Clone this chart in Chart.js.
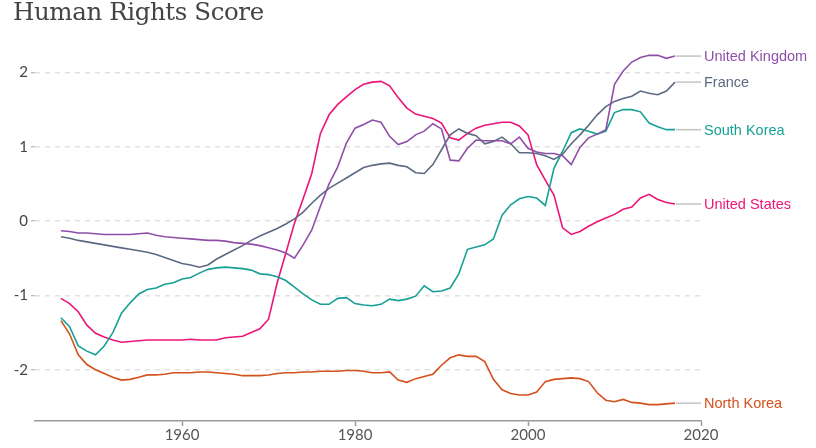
<!DOCTYPE html>
<html>
<head>
<meta charset="utf-8">
<script src="https://cdn.jsdelivr.net/npm/chart.js@4.4.1/dist/chart.umd.min.js"></script>
<style>
  html, body { margin: 0; padding: 0; background: #fff; }
  #wrap { position: relative; width: 816px; height: 448px; }
  #title {
    position: absolute; left: 13px; top: -3px; margin: 0;
    font: 400 24.5px "DejaVu Serif", serif; color: #444; letter-spacing: -0.4px;
  }
</style>
</head>
<body>
<div id="wrap">
  <h1 id="title">Human Rights Score</h1>
  <canvas id="chart"></canvas>
</div>
<script>
const years = [];
for (let y = 1946; y <= 2017; y++) years.push(y);

const xTicks = [1960, 1980, 2000, 2020];
const yTicks = [-2, -1, 0, 1, 2];

const unitedKingdom = [
  -0.13, -0.14, -0.16, -0.16, -0.17, -0.18, -0.18, -0.18, -0.18, -0.17,
  -0.16, -0.19, -0.21, -0.22, -0.23, -0.24, -0.25, -0.26, -0.26, -0.27,
  -0.29, -0.30, -0.31, -0.33, -0.36, -0.39, -0.43, -0.50, -0.32, -0.12,
  0.20, 0.50, 0.73, 1.05, 1.25, 1.30, 1.36, 1.33, 1.14, 1.03,
  1.07, 1.16, 1.21, 1.31, 1.24, 0.82, 0.81, 0.98, 1.09, 1.08,
  1.08, 1.08, 1.04, 1.13, 0.98, 0.93, 0.91, 0.91, 0.88, 0.76,
  0.99, 1.12, 1.17, 1.23, 1.84, 2.02, 2.14, 2.20, 2.23, 2.23,
  2.19, 2.22
];

const france = [
  -0.21, -0.23, -0.26, -0.28, -0.30, -0.32, -0.34, -0.36, -0.38, -0.40,
  -0.42, -0.45, -0.49, -0.53, -0.57, -0.59, -0.62, -0.59, -0.51, -0.45,
  -0.39, -0.33, -0.26, -0.20, -0.15, -0.10, -0.04, 0.03, 0.12, 0.24,
  0.35, 0.44, 0.51, 0.58, 0.65, 0.72, 0.75, 0.77, 0.78, 0.75,
  0.73, 0.65, 0.64, 0.76, 0.96, 1.16, 1.24, 1.18, 1.15, 1.04,
  1.07, 1.13, 1.04, 0.92, 0.92, 0.91, 0.88, 0.83, 0.90, 1.04,
  1.16, 1.29, 1.43, 1.54, 1.61, 1.65, 1.68, 1.75, 1.72, 1.70,
  1.75, 1.87
];

const southKorea = [
  -1.30, -1.42, -1.68, -1.75, -1.80, -1.68, -1.50, -1.24, -1.10, -0.98,
  -0.92, -0.90, -0.85, -0.83, -0.78, -0.76, -0.70, -0.65, -0.63, -0.62,
  -0.63, -0.64, -0.66, -0.71, -0.72, -0.75, -0.80, -0.89, -0.98, -1.06,
  -1.12, -1.12, -1.04, -1.03, -1.11, -1.13, -1.14, -1.12, -1.05, -1.07,
  -1.05, -1.01, -0.87, -0.95, -0.94, -0.90, -0.71, -0.38, -0.35, -0.32,
  -0.24, 0.08, 0.22, 0.30, 0.33, 0.31, 0.21, 0.71, 0.94, 1.19,
  1.24, 1.21, 1.17, 1.21, 1.46, 1.50, 1.50, 1.47, 1.32, 1.27,
  1.23, 1.23
];

const unitedStates = [
  -1.04, -1.11, -1.22, -1.40, -1.51, -1.56, -1.60, -1.63, -1.62, -1.61,
  -1.60, -1.60, -1.60, -1.60, -1.60, -1.59, -1.60, -1.60, -1.60, -1.57,
  -1.56, -1.55, -1.50, -1.45, -1.32, -0.83, -0.43, -0.03, 0.30, 0.64,
  1.18, 1.43, 1.57, 1.67, 1.77, 1.84, 1.87, 1.88, 1.82, 1.66,
  1.52, 1.44, 1.41, 1.38, 1.32, 1.12, 1.09, 1.18, 1.25, 1.29,
  1.31, 1.33, 1.33, 1.28, 1.16, 0.76, 0.55, 0.35, -0.09, -0.18,
  -0.14, -0.07, -0.01, 0.04, 0.09, 0.16, 0.19, 0.31, 0.36, 0.29,
  0.25, 0.23
];

const northKorea = [
  -1.34, -1.52, -1.80, -1.93, -2.00, -2.05, -2.10, -2.14, -2.13, -2.10,
  -2.07, -2.07, -2.06, -2.04, -2.04, -2.04, -2.03, -2.03, -2.04, -2.05,
  -2.06, -2.08, -2.08, -2.08, -2.07, -2.05, -2.04, -2.04, -2.03, -2.03,
  -2.02, -2.02, -2.02, -2.01, -2.01, -2.02, -2.04, -2.04, -2.03, -2.14,
  -2.17, -2.12, -2.09, -2.06, -1.94, -1.84, -1.80, -1.82, -1.82, -1.89,
  -2.13, -2.27, -2.32, -2.34, -2.34, -2.30, -2.16, -2.13, -2.12, -2.11,
  -2.12, -2.16, -2.31, -2.41, -2.43, -2.40, -2.44, -2.45, -2.47, -2.47,
  -2.46, -2.45
];

const seriesNames = ['United Kingdom', 'France', 'South Korea', 'United States', 'North Korea'];
const seriesValues = [unitedKingdom, france, southKorea, unitedStates, northKorea];
const seriesColors = ['#8e4fa8', '#5b6a82', '#17a096', '#ec1577', '#d4501c'];

function toPoints(values) {
  return values.map((v, i) => ({ x: years[i], y: v }));
}

// draws the grey leader line and the name at the end of each line
const endLabels = {
  id: 'endLabels',
  afterDatasetsDraw(chart) {
    const ctx = chart.ctx;
    const xs = chart.scales.x;
    const ys = chart.scales.y;
    ctx.save();
    chart.data.datasets.forEach((ds) => {
      const last = ds.data[ds.data.length - 1];
      const x0 = xs.getPixelForValue(last.x);
      const x1 = xs.getPixelForValue(2020);
      const y = ys.getPixelForValue(last.y);
      ctx.strokeStyle = '#c4c4c4';
      ctx.lineWidth = 1.5;
      ctx.beginPath();
      ctx.moveTo(x0 + 1, y);
      ctx.lineTo(x1, y);
      ctx.stroke();
      ctx.fillStyle = ds.borderColor;
      ctx.font = '14.5px "Liberation Sans", Arial, sans-serif';
      ctx.textBaseline = 'middle';
      ctx.textAlign = 'left';
      ctx.fillText(ds.label, x1 + 3, y + 1);
    });
    ctx.restore();
  }
};

const ctx = document.getElementById('chart').getContext('2d');
new Chart(ctx, {
  type: 'line',
  data: {
    datasets: seriesNames.map((name, i) => ({
      label: name,
      data: toPoints(seriesValues[i]),
      borderColor: seriesColors[i],
      backgroundColor: seriesColors[i],
      borderWidth: 1.6,
      pointRadius: 0,
      tension: 0,
      fill: false
    }))
  },
  options: {
    responsive: true,
    maintainAspectRatio: false,
    animation: false,
    layout: { padding: { top: 39, right: 115, left: 0, bottom: 0 } },
    plugins: {
      legend: { display: false },
      tooltip: { enabled: false }
    },
    scales: {
      x: {
        type: 'linear',
        min: 1943,
        max: 2020,
        afterBuildTicks: (scale) => { scale.ticks = xTicks.map(v => ({ value: v })); },
        afterFit: (scale) => { scale.height = 27; },
        border: { display: true, color: '#9a9a9a', width: 1.5 },
        grid: { drawOnChartArea: false, drawTicks: true, tickLength: 5, tickColor: '#9a9a9a', tickWidth: 1.5 },
        ticks: {
          padding: 0,
          color: '#555',
          font: { family: 'Lato', size: 15 },
          callback: (v) => String(v)
        }
      },
      y: {
        type: 'linear',
        min: -2.69,
        max: 2.45,
        afterBuildTicks: (scale) => { scale.ticks = yTicks.map(v => ({ value: v })); },
        afterFit: (scale) => { scale.width = 35; },
        border: { display: false, dash: [5, 5] },
        grid: {
          color: '#e2e2e2',
          lineWidth: 1.5,
          drawTicks: true,
          tickLength: 4,
          tickColor: '#a8a8a8',
          tickBorderDash: [],
          tickWidth: 1
        },
        ticks: {
          padding: 3,
          color: '#444',
          font: { family: 'Lato', size: 15 },
          callback: (v) => String(v)
        }
      }
    }
  },
  plugins: [endLabels]
});
</script>
</body>
</html>
